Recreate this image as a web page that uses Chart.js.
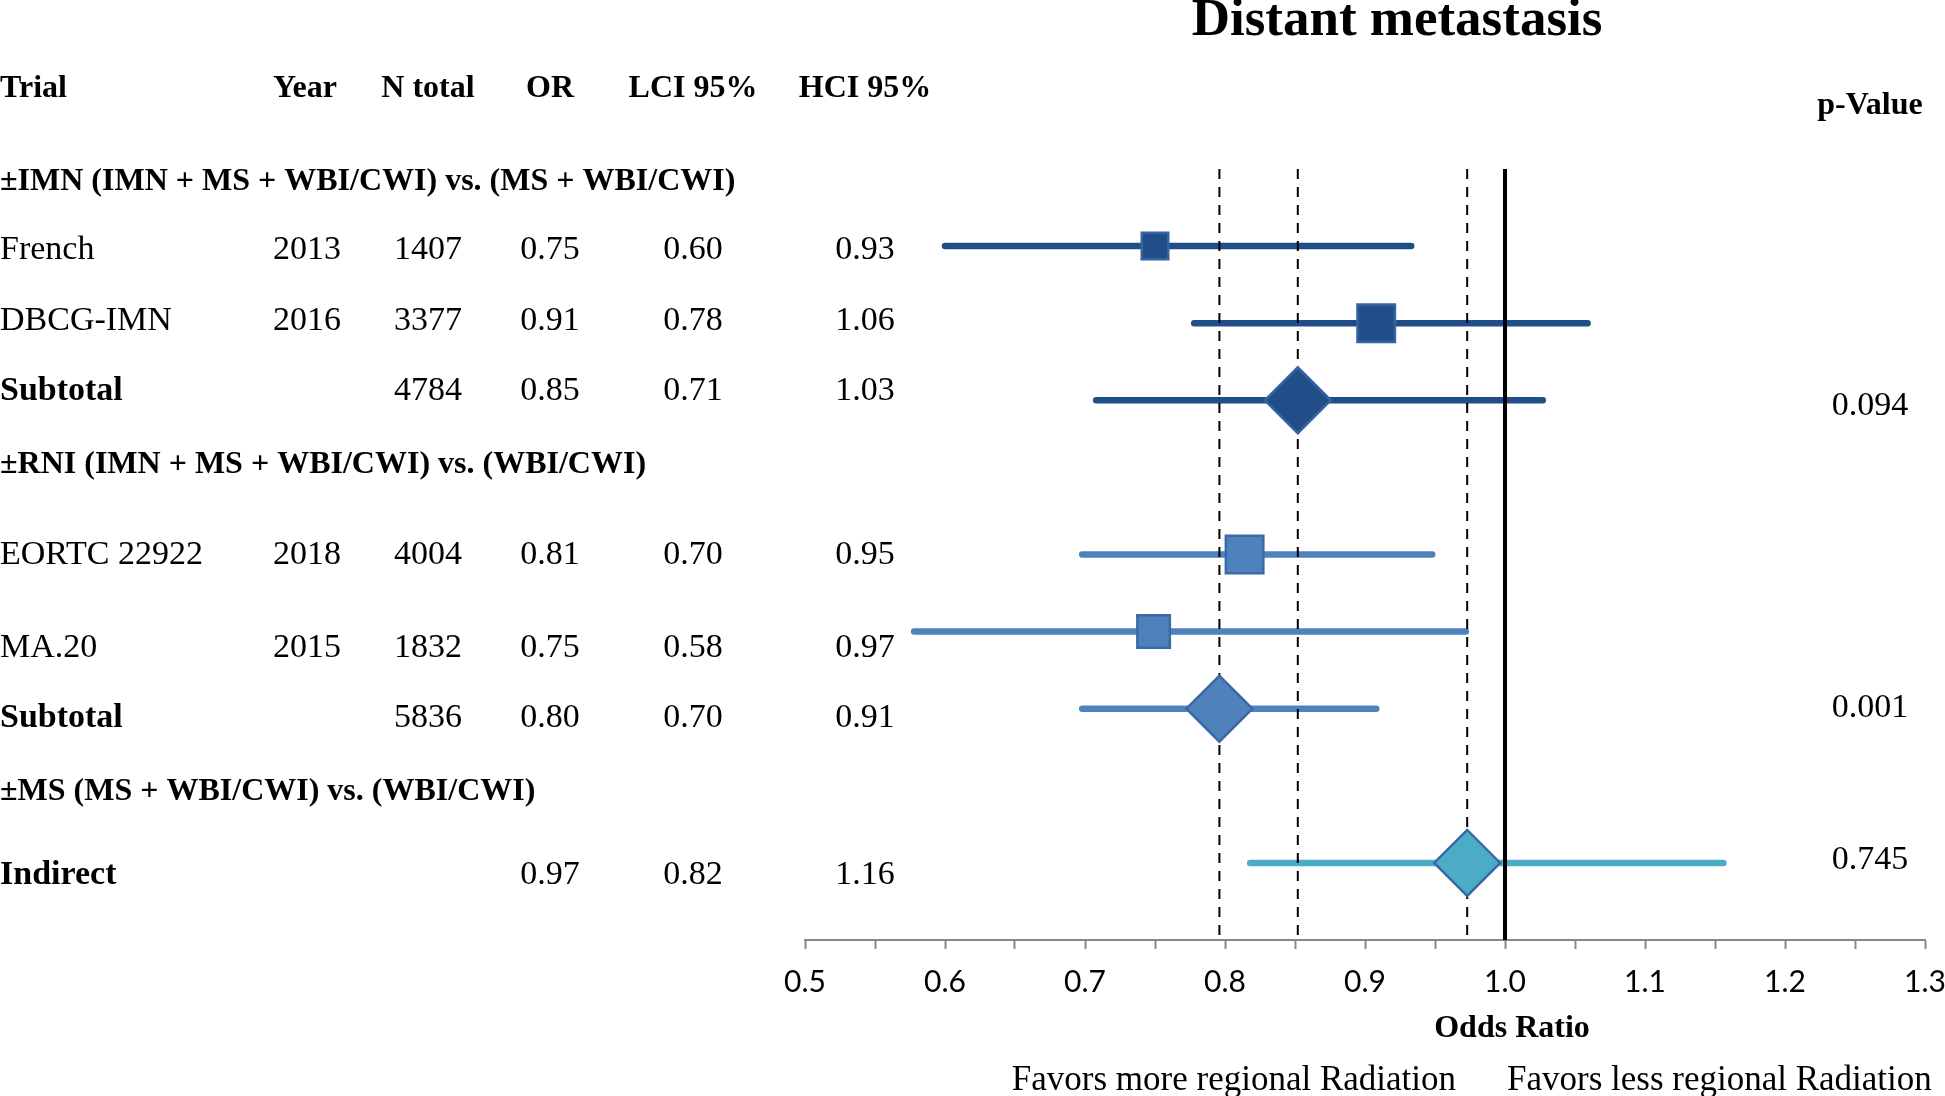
<!DOCTYPE html>
<html>
<head>
<meta charset="utf-8">
<title>Distant metastasis</title>
<script src="https://cdn.jsdelivr.net/npm/chart.js@4.4.1/dist/chart.umd.min.js"></script>
<style>
  html, body { margin: 0; padding: 0; background: #fff; }
  canvas { display: block; }
</style>
</head>
<body>
<canvas id="forest" width="1945" height="1096"></canvas>
<script>
// data
const trials    = ['French', 'DBCG-IMN', 'Subtotal', 'EORTC 22922', 'MA.20', 'Subtotal', 'Indirect'];
const years     = ['2013', '2016', '', '2018', '2015', '', ''];
const nTotal    = ['1407', '3377', '4784', '4004', '1832', '5836', ''];
const oddsRatio = [0.75, 0.908, 0.852, 0.814, 0.749, 0.796, 0.973];
const lowerCI   = [0.60, 0.778, 0.708, 0.698, 0.578, 0.698, 0.818];
const upperCI   = [0.933, 1.059, 1.027, 0.948, 0.972, 0.908, 1.156];
const isPooled  = [false, false, true, false, false, true, true];
const rowGroup  = [0, 0, 0, 1, 1, 1, 2];
const groups    = ['±IMN (IMN + MS + WBI/CWI) vs. (MS + WBI/CWI)',
                   '±RNI (IMN + MS + WBI/CWI) vs. (WBI/CWI)',
                   '±MS (MS + WBI/CWI) vs. (WBI/CWI)'];
const pValues   = ['0.094', '0.001', '0.745'];   // one per group (pooled row)
const columns   = ['Trial', 'Year', 'N total', 'OR', 'LCI 95%', 'HCI 95%'];
const xTickLabels = ['0.5', '0.6', '0.7', '0.8', '0.9', '1.0', '1.1', '1.2', '1.3'];
const nullEffect = 1.0;

// layout / style
const SERIF = '"Liberation Serif", "Times New Roman", serif';
const rowSlot       = [1, 2, 3, 5, 6, 7, 9];          // y slot on plot, 0 = top, 10 = axis
const rowBaseline   = [259, 330, 400, 564, 657, 727, 884];
const groupBaseline = [190, 473, 800];
const pBaseline     = [415, 717, 869];
const colX     = [0, 273, 428, 550, 693, 865];
const colAlign = ['left', 'left', 'center', 'center', 'center', 'center'];
const pColX    = 1870;
const squareSide  = [29, 40, 0, 40, 35, 0, 0];
const groupColor  = ['#1F4E89', '#4F81BD', '#4BACC6'];
const groupBorder = ['#3664a3', '#3b69a5', '#3a69a6'];

const studyIdx  = trials.map((t, i) => i).filter(i => !isPooled[i]);
const pooledIdx = trials.map((t, i) => i).filter(i => isPooled[i]);

// markers first so they end up on top
const datasets = [];
datasets.push({
  label: 'studies',
  data: studyIdx.map(i => ({ x: oddsRatio[i], y: rowSlot[i] })),
  pointStyle: 'rect',
  pointRadius: studyIdx.map(i => (squareSide[i] - 2.5) / Math.SQRT2),
  backgroundColor: studyIdx.map(i => groupColor[rowGroup[i]]),
  borderColor: studyIdx.map(i => groupBorder[rowGroup[i]]),
  borderWidth: 2.5,
  clip: false
});
datasets.push({
  label: 'pooled',
  data: pooledIdx.map(i => ({ x: oddsRatio[i], y: rowSlot[i] })),
  pointStyle: 'rectRot',
  pointRadius: 33,
  backgroundColor: pooledIdx.map(i => groupColor[rowGroup[i]]),
  borderColor: pooledIdx.map(i => groupBorder[rowGroup[i]]),
  borderWidth: 2.5,
  clip: false
});
// vertical reference lines: no effect + pooled estimates
datasets.push({
  label: 'no effect',
  data: [{ x: nullEffect, y: 0 }, { x: nullEffect, y: 10 }],
  showLine: true, borderColor: '#000', borderWidth: 4, pointRadius: 0, clip: false
});
pooledIdx.forEach(i => datasets.push({
  label: 'pooled ' + i,
  data: [{ x: oddsRatio[i], y: 0 }, { x: oddsRatio[i], y: 10 }],
  showLine: true, borderColor: '#000', borderWidth: 2, borderDash: [10, 8],
  pointRadius: 0, clip: false
}));
// confidence intervals (drawn first, underneath)
trials.forEach((t, i) => datasets.push({
  label: t + ' CI',
  data: [{ x: lowerCI[i], y: rowSlot[i] }, { x: upperCI[i], y: rowSlot[i] }],
  showLine: true, borderColor: groupColor[rowGroup[i]], borderWidth: 6.5,
  borderCapStyle: 'round', pointRadius: 0, clip: false
}));

const tableText = {
  id: 'tableText',
  beforeDraw(chart) {
    const ctx = chart.ctx;
    ctx.save();
    ctx.fillStyle = '#fff';
    ctx.fillRect(0, 0, chart.width, chart.height);
    ctx.restore();
  },
  afterDraw(chart) {
    const ctx = chart.ctx;
    const xs = chart.scales.x;
    ctx.save();
    ctx.fillStyle = '#000';
    ctx.textBaseline = 'alphabetic';

    ctx.font = 'bold 53px ' + SERIF;
    ctx.textAlign = 'center';
    ctx.fillText('Distant metastasis', 1397, 35);

    ctx.font = 'bold 32px ' + SERIF;
    columns.forEach((c, j) => {
      ctx.textAlign = colAlign[j];
      ctx.fillText(c, colX[j], 97);
    });
    ctx.textAlign = 'center';
    ctx.fillText('p-Value', pColX, 114);

    ctx.textAlign = 'left';
    groups.forEach((g, k) => ctx.fillText(g, 0, groupBaseline[k]));

    trials.forEach((t, i) => {
      const cells = [t, years[i], nTotal[i], oddsRatio[i].toFixed(2), lowerCI[i].toFixed(2), upperCI[i].toFixed(2)];
      cells.forEach((c, j) => {
        ctx.font = (j === 0 && isPooled[i] ? 'bold ' : '') + '34px ' + SERIF;
        ctx.textAlign = colAlign[j];
        ctx.fillText(c, colX[j], rowBaseline[i]);
      });
    });

    ctx.font = '34px ' + SERIF;
    ctx.textAlign = 'center';
    pValues.forEach((p, k) => ctx.fillText(p, pColX, pBaseline[k]));

    // axis title sits over the line of no effect
    const x1 = xs.getPixelForValue(nullEffect);
    ctx.font = 'bold 32px ' + SERIF;
    ctx.fillText('Odds Ratio', x1 + 7, 1037);

    ctx.font = '35px ' + SERIF;
    ctx.textAlign = 'right';
    ctx.fillText('Favors more regional Radiation', x1 - 49, 1090);
    ctx.textAlign = 'left';
    ctx.fillText('Favors less regional Radiation', x1 + 2, 1090);
    ctx.restore();
  }
};

new Chart(document.getElementById('forest'), {
  type: 'scatter',
  data: { datasets },
  options: {
    responsive: false,
    animation: false,
    devicePixelRatio: 1,
    events: [],
    layout: { autoPadding: false, padding: { left: 805, right: 20, top: 169, bottom: 46 } },
    plugins: { legend: { display: false }, tooltip: { enabled: false } },
    scales: {
      x: {
        type: 'linear',
        position: 'bottom',
        min: 0.5,
        max: 1.3,
        afterBuildTicks(scale) {
          const ticks = [];
          xTickLabels.forEach((l, k) => {
            ticks.push({ value: parseFloat(l) });
            if (k < xTickLabels.length - 1) {
              ticks.push({ value: (parseFloat(l) + parseFloat(xTickLabels[k + 1])) / 2 });
            }
          });
          scale.ticks = ticks;
        },
        afterFit(scale) {
          scale.height = 110;
          scale.paddingLeft = 0;
          scale.paddingRight = 0;
        },
        grid: { drawOnChartArea: false, drawTicks: true, tickLength: 9, tickColor: '#878787', tickWidth: 2 },
        border: { display: true, color: '#878787', width: 2 },
        ticks: {
          callback: (v, idx) => (idx % 2 === 0 ? xTickLabels[idx / 2] : ''),
          autoSkip: false,
          maxRotation: 0,
          padding: 15,
          color: '#000',
          font: { family: 'Lato', size: 30 }
        }
      },
      y: { type: 'linear', display: false, min: 0, max: 10, reverse: true }
    }
  },
  plugins: [tableText]
});
</script>
</body>
</html>
